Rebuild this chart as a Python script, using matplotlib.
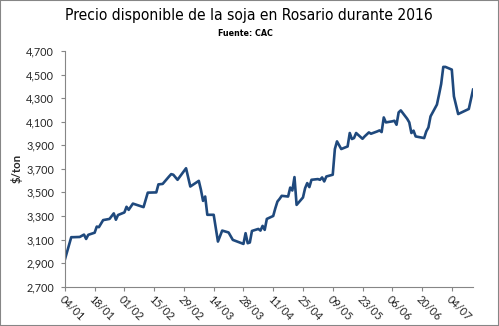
import matplotlib
matplotlib.use('Agg')
import matplotlib.pyplot as plt
from matplotlib.patches import Rectangle
from matplotlib.ticker import FuncFormatter
import pandas as pd

# precio disponible (dd/mm de 2016, $/ton)
fechas = ['04/01', '07/01', '08/01', '11/01', '13/01', '14/01', '15/01', '18/01', '19/01', '20/01',
          '22/01', '25/01', '27/01', '28/01', '29/01', '01/02', '02/02', '03/02', '05/02', '10/02',
          '12/02', '16/02', '17/02', '19/02', '22/02', '23/02', '24/02', '26/02', '01/03', '03/03',
          '07/03', '08/03', '09/03', '10/03', '11/03', '14/03', '16/03', '18/03', '21/03', '23/03',
          '28/03', '29/03', '30/03', '31/03', '01/04', '04/04', '05/04', '06/04', '07/04', '08/04',
          '11/04', '12/04', '13/04', '14/04', '15/04', '18/04', '19/04', '20/04', '21/04', '22/04',
          '25/04', '26/04', '27/04', '28/04', '29/04', '02/05', '03/05', '04/05', '05/05', '06/05',
          '09/05', '10/05', '11/05', '13/05', '16/05', '17/05', '18/05', '19/05', '20/05', '23/05',
          '24/05', '26/05', '27/05', '30/05', '31/05', '01/06', '02/06', '03/06', '06/06', '07/06',
          '08/06', '09/06', '10/06', '13/06', '14/06', '15/06', '16/06', '17/06', '21/06', '22/06',
          '23/06', '24/06', '27/06', '28/06', '29/06', '30/06', '01/07', '04/07', '05/07', '07/07',
          '12/07', '14/07']
precios = [2930, 3120, 3120, 3122, 3142, 3105, 3140, 3158, 3210, 3205,
           3265, 3275, 3322, 3268, 3308, 3330, 3378, 3352, 3405, 3375,
           3498, 3500, 3568, 3572, 3635, 3655, 3650, 3607, 3705, 3550,
           3598, 3522, 3428, 3465, 3310, 3310, 3083, 3176, 3160, 3097,
           3063, 3154, 3069, 3075, 3173, 3190, 3176, 3216, 3182, 3275,
           3300, 3366, 3423, 3445, 3471, 3465, 3541, 3516, 3630, 3394,
           3457, 3536, 3579, 3545, 3607, 3613, 3607, 3627, 3593, 3635,
           3650, 3868, 3933, 3868, 3890, 4004, 3953, 3961, 4004, 3955,
           3975, 4009, 3998, 4018, 4026, 4012, 4136, 4094, 4103, 4108,
           4074, 4179, 4196, 4125, 4094, 4004, 4024, 3975, 3961, 4018,
           4051, 4145, 4245, 4330, 4420, 4565, 4565, 4542, 4315, 4165,
           4208, 4372]

dias = pd.to_datetime([f + '/2016' for f in fechas], format='%d/%m/%Y')
marcas = pd.date_range('2016-01-04', '2016-07-04', freq='14D')

gris = '#868686'
texto = '#262626'
fig = plt.figure(figsize=(4.99, 3.26), dpi=100)
ax = fig.add_axes([0.130, 0.1206, 0.818, 0.723])
ax.plot(dias, precios, color='#1F497D', lw=1.9, solid_joinstyle='round')

ax.set_xlim(pd.Timestamp('2016-01-04'), pd.Timestamp('2016-07-14'))
ax.set_ylim(2700, 4700)
ax.set_yticks(range(2700, 4701, 200))
ax.yaxis.set_major_formatter(FuncFormatter(lambda v, p: f'{v:,.0f}'))
ax.set_xticks(marcas)
ax.set_xticklabels([d.strftime('%d/%m') for d in marcas], rotation=-45,
                   ha='left', va='top', rotation_mode='anchor')
for t in ax.get_xticklabels() + ax.get_yticklabels():
    t.set_family('Lato')

for s in ['top', 'right']:
    ax.spines[s].set_visible(False)
for s in ['left', 'bottom']:
    ax.spines[s].set_color(gris)
    ax.spines[s].set_linewidth(0.8)
ax.tick_params(colors=gris, length=3.2, width=0.8, labelcolor=texto, labelsize=7.8)
ax.tick_params(axis='y', pad=4.5)
ax.tick_params(axis='x', pad=2)

fig.text(17 / 499, 1 - 168 / 326, '$/ton', rotation=90, ha='center', va='center',
         fontsize=8.2, fontweight='bold', family='Lato', color=texto)

fig.text(0.499, 0.951, 'Precio disponible de la soja en Rosario durante 2016',
         ha='center', va='center', fontsize=11.2, fontstretch='condensed', color='black')
fig.text(0.491, 0.896, 'Fuente: CAC', ha='center', va='center',
         fontsize=6.4, fontweight='bold', fontstretch='condensed', color='black')

fig.add_artist(Rectangle((0, 0), 1, 1, transform=fig.transFigure, fill=False,
                         ec=gris, lw=1.5))
fig.savefig('out.png', dpi=100)
